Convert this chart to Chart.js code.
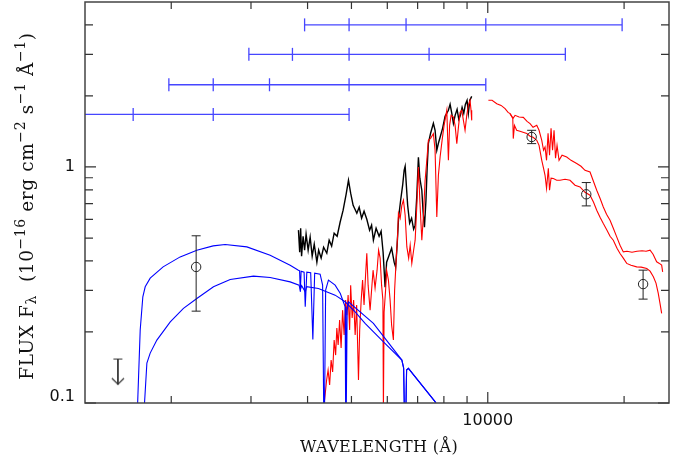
<!DOCTYPE html>
<html>
<head>
<meta charset="utf-8">
<script src="https://cdn.jsdelivr.net/npm/chart.js@4.4.1/dist/chart.umd.min.js"></script>
<style>
  html, body { margin: 0; padding: 0; background: #fff; }
</style>
</head>
<body>
<canvas id="chart" width="682" height="462"></canvas>
<script>
// wavelength in Angstrom, flux in 1e-16 erg cm-2 s-1 A-1

// harmonic scale bars at the top
const bar1Wave = [3940, 4940, 6600, 9900, 19800];
const bar2Wave = [2968, 3704, 4940, 7420, 14835];
const bar3Wave = [1976, 2476, 3296, 4940, 9900];
const bar4Wave = [1235, 1648, 2476, 4940];
const barLevels = [4.0, 3.0, 2.23, 1.67];

// optical spectrum (black)
const blackWave = [3819, 3843, 3862, 3880, 3910, 3940, 3970, 4012, 4053, 4095, 4138, 4194, 4232, 4286, 4340, 4411,
  4464, 4521, 4579, 4649, 4720, 4793, 4866, 4925, 4980, 5043, 5139, 5200, 5265, 5331, 5406, 5483, 5539, 5590,
  5668, 5755, 5814, 5873, 5933, 5979, 6055, 6133, 6212, 6260, 6307, 6355, 6421, 6487, 6536, 6570, 6610, 6654,
  6721, 6789, 6859, 6912, 6972, 7028, 7079, 7151, 7199, 7247, 7303, 7347, 7394, 7477, 7584, 7650, 7717, 7780,
  7848, 7947, 8049, 8186, 8257, 8329, 8397, 8470, 8556, 8630, 8700, 8776, 8851, 8923, 9000, 9060, 9125, 9216];
const blackFlux = [0.540, 0.4355, 0.550, 0.4188, 0.5088, 0.444, 0.519, 0.444, 0.504, 0.4188, 0.471, 0.395, 0.444,
  0.4109, 0.457, 0.431, 0.4895, 0.462, 0.524, 0.5088, 0.583, 0.656, 0.766, 0.878, 0.774, 0.688, 0.637, 0.675,
  0.6065, 0.6495, 0.6006, 0.540, 0.567, 0.4895, 0.550, 0.5088, 0.534, 0.4355, 0.3097, 0.395, 0.423, 0.453, 0.395,
  0.3763, 0.466, 0.6125, 0.723, 0.837, 0.968, 1.007, 0.837, 0.688, 0.578, 0.6065, 0.545, 0.567, 0.759, 1.099,
  0.896, 0.797, 0.643, 0.5555, 0.723, 0.987, 1.26, 1.389, 1.531, 1.43, 1.177, 1.26, 1.336, 1.458, 1.639, 1.738,
  1.842, 1.688, 1.531, 1.655, 1.755, 1.592, 1.655, 1.789, 1.688, 1.842, 1.916, 1.688, 1.916, 1.991];

// optical spectrum (red)
const redWave = [4336, 4373, 4407, 4440, 4475, 4509, 4544, 4579, 4614, 4642, 4673, 4708, 4744, 4780, 4817, 4854,
  4884, 4916, 4954, 4980, 5018, 5056, 5095, 5134, 5182, 5214, 5254, 5291, 5331, 5372, 5406, 5442, 5497, 5539,
  5581, 5638, 5696, 5740, 5785, 5828, 5867, 5882, 5903, 5948, 5979, 6034, 6086, 6133, 6189, 6227, 6276, 6323,
  6349, 6405, 6460, 6513, 6570, 6627, 6688, 6740, 6796, 6859, 6912, 6972, 7028, 7079, 7151, 7210, 7272, 7335,
  7394, 7477, 7584, 7650, 7717, 7780, 7848, 7927, 8008, 8119, 8186, 8236, 8299, 8397, 8470, 8543, 8622, 8688,
  8764, 8835, 8909, 8986, 9060, 9138, 9184, 9216];
const redFlux = [0.0934, 0.1081, 0.1252, 0.1379, 0.1192, 0.152, 0.1353, 0.1848, 0.1596, 0.2077, 0.176, 0.2245,
  0.1709, 0.2474, 0.194, 0.2729, 0.2357, 0.2865, 0.2037, 0.3157, 0.229, 0.2729, 0.194, 0.26, 0.1252, 0.2037,
  0.2729, 0.3315, 0.26, 0.348, 0.431, 0.3157, 0.2474, 0.3007, 0.3654, 0.3067, 0.3654, 0.444, 0.4109, 0.3157,
  0.2729, 0.0934, 0.2427, 0.3007, 0.3654, 0.3315, 0.2729, 0.2138, 0.1848, 0.3007, 0.4028, 0.514, 0.637, 0.6065,
  0.688, 0.723, 0.6245, 0.4585, 0.4109, 0.4663, 0.3903, 0.444, 0.4895, 0.688, 1.0, 0.723, 0.4895, 0.6245, 0.878,
  1.067, 1.297, 1.323, 1.385, 1.177, 0.6144, 0.922, 1.102, 1.297, 1.501, 1.738, 1.067, 1.501, 1.655, 1.628,
  1.501, 1.256, 1.501, 1.704, 1.738, 1.576, 1.43, 1.655, 1.824, 1.916, 1.738, 1.576];

// near-IR spectra (red), two epochs
const ir1Wave = [10031, 10221, 10468, 10700, 10919, 11087, 11200, 11372, 11489, 11725, 11980, 12211, 12399, 12589,
  12828, 12979, 13159, 13280, 13381, 13483, 13587, 13690, 13795, 13901, 14007, 14114, 14222, 14368, 14588, 14939,
  15270, 15718, 16065, 16395, 16819, 17079, 17402, 17697, 17994, 18291, 18620, 18932, 19263, 19590, 19920, 20298,
  20820, 21355, 21916, 22363, 22824, 23175, 23602, 23878, 24209, 24332];
const ir1Flux = [1.916, 1.916, 1.855, 1.824, 1.767, 1.704, 1.683, 1.607, 1.655, 1.628, 1.623, 1.561, 1.526, 1.472,
  1.501, 1.43, 1.297, 1.177, 1.215, 1.067, 1.389, 1.121, 1.458, 1.177, 1.43, 1.089, 1.235, 1.067, 1.121, 1.102,
  1.067, 1.034, 1.007, 0.968, 0.952, 0.878, 0.797, 0.737, 0.677, 0.631, 0.595, 0.55, 0.5055, 0.4663, 0.4368,
  0.4397, 0.4355, 0.4397, 0.4418, 0.4397, 0.444, 0.427, 0.3963, 0.3913, 0.3837, 0.3594];
const ir2Wave = [11200, 11356, 11384, 11454, 11582, 11778, 11960, 12195, 12399, 12589, 12828, 12979, 13159, 13280,
  13381, 13483, 13607, 13690, 13795, 13958, 14199, 14439, 14813, 15193, 15584, 15984, 16395, 16819, 17123, 17402,
  17697, 17994, 18333, 18620, 18932, 19291, 19590, 19920, 20268, 20716, 21322, 21813, 22443, 22824, 23210, 23522,
  23795, 24000, 24209];
const ir2Flux = [1.683, 1.607, 1.319, 1.501, 1.43, 1.416, 1.402, 1.385, 1.349, 1.336, 1.297, 1.235, 1.067, 0.987,
  0.922, 0.8125, 0.987, 0.797, 0.896, 0.893, 0.878, 0.878, 0.887, 0.878, 0.837, 0.823, 0.7814, 0.759, 0.709,
  0.656, 0.6125, 0.576, 0.540, 0.5088, 0.4895, 0.4529, 0.43, 0.4109, 0.3903, 0.3837, 0.3775, 0.3763, 0.3715,
  0.362, 0.3424, 0.322, 0.2912, 0.265, 0.2396];

// model spectra (blue)
const modelAWave = [1677, 1686, 1708, 1731, 1752, 1797, 1919, 2093, 2278, 2475, 2631, 2938, 3307, 3661, 3818, 3841,
  3855, 3871, 3930, 3953, 3985, 4064, 4109, 4147, 4264, 4318, 4351, 4385, 4448, 4602, 4725, 4842, 4860, 4892,
  4924, 5591, 6461, 6520, 6569, 6618, 6679, 7648, 7844];
const modelAFlux = [0.07, 0.1, 0.2037, 0.2818, 0.3106, 0.338, 0.3775, 0.416, 0.444, 0.463, 0.4694, 0.4585, 0.423,
  0.3837, 0.3654, 0.363, 0.2958, 0.362, 0.3585, 0.2556, 0.3585, 0.3566, 0.186, 0.355, 0.3515, 0.3157, 0.06,
  0.3007, 0.3315, 0.3157, 0.2912, 0.2556, 0.06, 0.2474, 0.2684, 0.2175, 0.152, 0.1406, 0.06, 0.1379, 0.1402,
  0.1013, 0.0934];
const modelBWave = [1737, 1746, 1767, 1797, 1859, 1990, 2128, 2278, 2479, 2699, 3038, 3307, 3661, 3831, 3855, 3881,
  3953, 3981, 4227, 4602, 4842, 5094, 5359, 5883, 6461, 6520, 6569, 6618, 6679, 7648, 7844];
const modelBFlux = [0.07, 0.1, 0.1476, 0.1627, 0.1848, 0.2208, 0.2517, 0.2773, 0.3106, 0.3339, 0.3447, 0.3404,
  0.326, 0.3157, 0.3007, 0.3142, 0.2958, 0.3112, 0.3057, 0.2864, 0.2684, 0.2434, 0.2175, 0.1817, 0.152, 0.1406,
  0.06, 0.1379, 0.1402, 0.1013, 0.0934];

// photometry with error bars, plus one upper limit
const photWave = [2270, 12500, 16500, 22030];
const photFlux = [0.377, 1.34, 0.766, 0.319];
const photLow = [0.245, 1.256, 0.684, 0.2755];
const photHigh = [0.511, 1.43, 0.859, 0.3655];
const limitWave = 1525;
const limitFlux = 0.1535;
const limitTip = 0.12;

// axis ticks
const xMinorTicks = [2000, 3000, 4000, 5000, 6000, 7000, 8000, 9000, 20000];
const xMajorTicks = [10000];
const yMinorTicks = [0.2, 0.3, 0.4, 0.5, 0.6, 0.7, 0.8, 0.9, 2, 3, 4];
const yMajorTicks = [0.1, 1];
const xTickLabels = ['10000'];
const yTickLabels = ['0.1', '1'];

const pts = (xs, ys) => xs.map((x, i) => ({ x, y: ys[i] }));

// little open arrow head for the upper limit
const arrowHead = document.createElement('canvas');
arrowHead.width = 14;
arrowHead.height = 14;
{
  const g = arrowHead.getContext('2d');
  g.strokeStyle = '#333';
  g.lineWidth = 1.2;
  g.beginPath();
  g.moveTo(1, 1);
  g.lineTo(7, 7);
  g.lineTo(13, 1);
  g.stroke();
}

const line = (data, color, width, order) => ({
  data, borderColor: color, borderWidth: width, showLine: true,
  pointRadius: 0, tension: 0, order
});

const bars = [bar1Wave, bar2Wave, bar3Wave, bar4Wave].map((w, i) => ({
  data: w.map(x => ({ x, y: barLevels[i] })),
  borderColor: '#4646ff', borderWidth: 1.3, showLine: true, tension: 0,
  pointStyle: 'line', pointRotation: 90, pointRadius: w.map(x => x < 1290 ? 0 : 6.5),
  pointBorderColor: '#4646ff', pointBorderWidth: 1.3, order: 2
}));

const errorBars = photWave.map((x, i) => ({
  data: [{ x, y: photLow[i] }, { x, y: photHigh[i] }],
  borderColor: '#222', borderWidth: 1, showLine: true,
  pointStyle: 'line', pointRadius: 4.5, pointBorderColor: '#222', pointBorderWidth: 1, order: 1
}));

const datasets = [
  ...bars,
  line(pts(blackWave, blackFlux), '#000', 1.4, 6),
  line(pts(redWave, redFlux), '#ff0000', 1.1, 5),
  line(pts(ir1Wave, ir1Flux), '#ff0000', 1.1, 5),
  line(pts(ir2Wave, ir2Flux), '#ff0000', 1.1, 5),
  line(pts(modelAWave, modelAFlux), '#0000ff', 1.1, 4),
  line(pts(modelBWave, modelBFlux), '#0000ff', 1.1, 4),
  ...errorBars,
  {
    data: pts(photWave, photFlux), showLine: false,
    pointStyle: 'circle', pointRadius: 4.7, pointBackgroundColor: 'rgba(0,0,0,0)',
    pointBorderColor: '#222', pointBorderWidth: 1, order: 0
  },
  {
    data: [{ x: limitWave, y: limitFlux }, { x: limitWave, y: limitTip }],
    borderColor: '#333', borderWidth: 1, showLine: true,
    pointStyle: ['line', arrowHead], pointRadius: 4.5, pointBorderColor: '#333', pointBorderWidth: 1, order: 0
  }
];

// draw the axes box, inward ticks, labels and titles
const framePlugin = {
  id: 'frame',
  afterDraw(chart) {
    const { ctx, chartArea: a, scales: { x, y } } = chart;
    ctx.save();
    ctx.strokeStyle = '#444';
    ctx.lineWidth = 1.5;
    ctx.strokeRect(a.left, a.top, a.right - a.left, a.bottom - a.top);

    ctx.strokeStyle = '#333';
    ctx.lineWidth = 1.2;
    ctx.beginPath();
    const xt = (v, len) => {
      const px = x.getPixelForValue(v);
      ctx.moveTo(px, a.bottom); ctx.lineTo(px, a.bottom - len);
      ctx.moveTo(px, a.top); ctx.lineTo(px, a.top + len);
    };
    const yt = (v, len) => {
      const py = y.getPixelForValue(v);
      ctx.moveTo(a.left, py); ctx.lineTo(a.left + len, py);
      ctx.moveTo(a.right, py); ctx.lineTo(a.right - len, py);
    };
    xMinorTicks.forEach(v => xt(v, 7));
    xMajorTicks.forEach(v => xt(v, 11));
    yMinorTicks.forEach(v => yt(v, 8));
    yMajorTicks.forEach(v => yt(v, 11));
    ctx.stroke();

    ctx.fillStyle = '#111';
    ctx.font = '16px "DejaVu Sans"';
    ctx.textAlign = 'center';
    ctx.textBaseline = 'top';
    xMajorTicks.forEach((v, i) => ctx.fillText(xTickLabels[i], x.getPixelForValue(v), a.bottom + 10));
    ctx.textAlign = 'right';
    ctx.textBaseline = 'middle';
    yMajorTicks.forEach((v, i) => {
      let py = y.getPixelForValue(v);
      if (py > a.bottom - 4) py = a.bottom - 6;
      ctx.fillText(yTickLabels[i], a.left - 10, py);
    });

    // x title
    ctx.font = '16px "DejaVu Serif"';
    ctx.letterSpacing = '0.4px';
    ctx.textAlign = 'center';
    ctx.textBaseline = 'alphabetic';
    ctx.fillText('WAVELENGTH (Å)', (a.left + a.right) / 2 + 2, 452);

    // y title, rotated, with sub/superscripts
    const parts = [
      ['FLUX F', 0], ['λ', -1], ['  (10', 0], ['−16', 1], [' erg cm', 0], ['−2', 1],
      [' s', 0], ['−1', 1], [' Å', 0], ['−1', 1], [')', 0]
    ];
    ctx.letterSpacing = '0.6px';
    const fontFor = s => s === 0 ? '18.5px "DejaVu Serif"' : '14px "DejaVu Serif"';
    let total = 0;
    parts.forEach(([t, s]) => { ctx.font = fontFor(s); total += ctx.measureText(t).width; });
    ctx.translate(33, 206);
    ctx.rotate(-Math.PI / 2);
    ctx.textAlign = 'left';
    let cx = -total / 2;
    parts.forEach(([t, s]) => {
      ctx.font = fontFor(s);
      const dy = s === 1 ? -8 : (s === -1 ? 3 : 0);
      ctx.fillText(t, cx, dy);
      cx += ctx.measureText(t).width;
    });
    ctx.restore();
  }
};

new Chart(document.getElementById('chart'), {
  type: 'scatter',
  data: { datasets },
  options: {
    responsive: false,
    animation: false,
    events: [],
    layout: { autoPadding: false, padding: { left: 85, right: 13, top: 2, bottom: 59 } },
    plugins: { legend: { display: false }, tooltip: { enabled: false } },
    scales: {
      x: { type: 'logarithmic', min: 1290, max: 25130, display: false },
      y: { type: 'logarithmic', min: 0.1, max: 5, display: false }
    }
  },
  plugins: [framePlugin]
});
</script>
</body>
</html>
